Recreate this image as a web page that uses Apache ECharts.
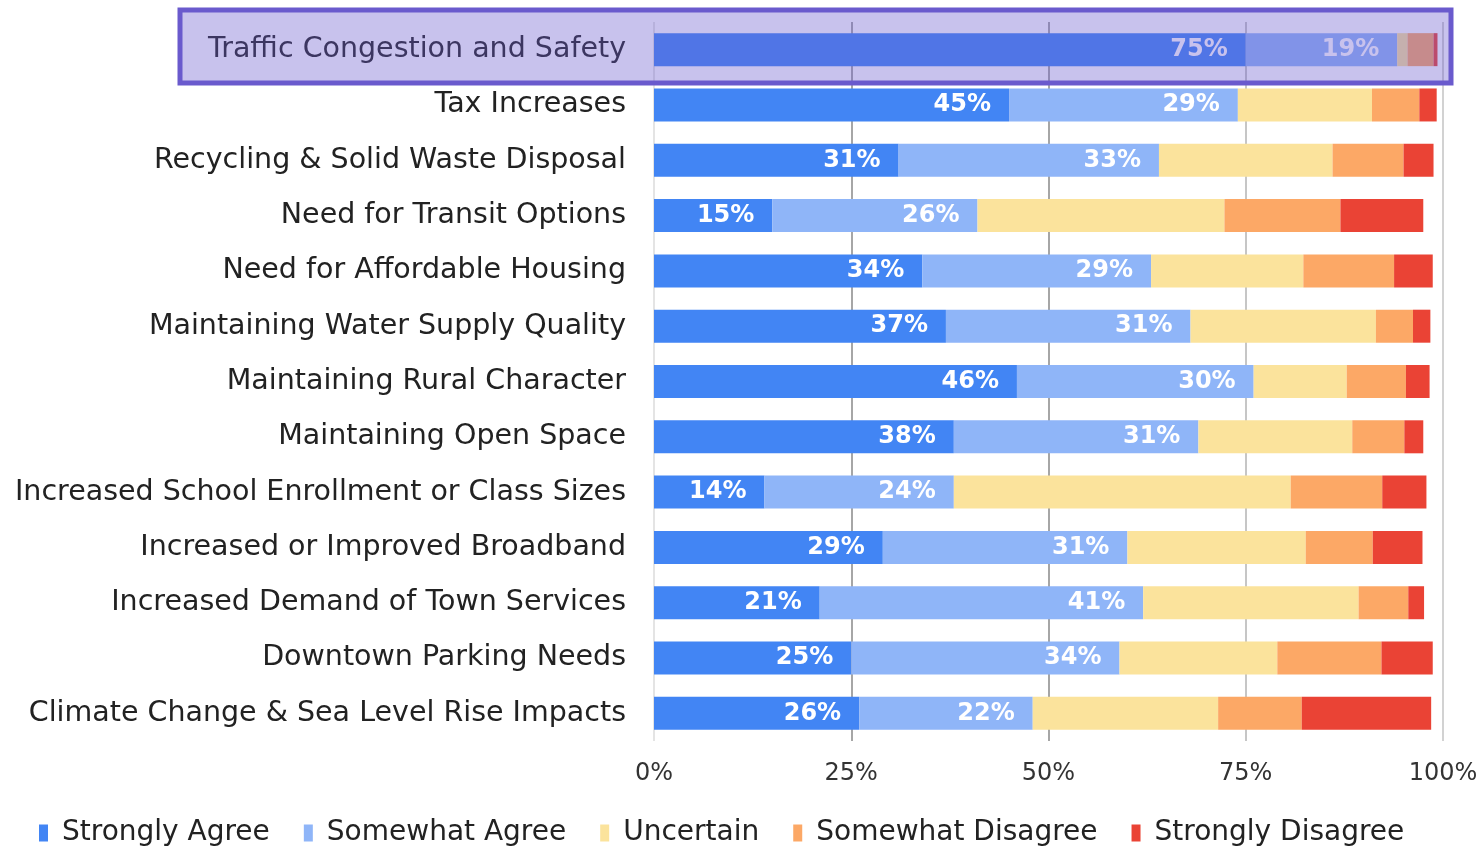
<!DOCTYPE html>
<html>
<head>
    <meta charset="utf-8">
    <title>Community Concerns</title>
    <script src="https://cdn.jsdelivr.net/npm/echarts@6/dist/echarts.min.js"></script>
    <style>
      html, body { margin: 0; padding: 0; background: #fff; }
    </style>
</head>
<body>
    <div id="main" style="width: 1481px;height:847px;"></div>
    <script type="text/javascript">
    // Data (percent of respondents)
    var topics = [
      'Traffic Congestion and Safety',
      'Tax Increases',
      'Recycling & Solid Waste Disposal',
      'Need for Transit Options',
      'Need for Affordable Housing',
      'Maintaining Water Supply Quality',
      'Maintaining Rural Character',
      'Maintaining Open Space',
      'Increased School Enrollment or Class Sizes',
      'Increased or Improved Broadband',
      'Increased Demand of Town Services',
      'Downtown Parking Needs',
      'Climate Change & Sea Level Rise Impacts'
    ];
    var stronglyAgree    = [75, 45, 31, 15, 34, 37, 46, 38, 14, 29, 21, 25, 26];
    var somewhatAgree    = [19.2, 29, 33, 26, 29, 31, 30, 31, 24, 31, 41, 34, 22];
    var uncertain        = [1.3, 17, 22, 31.3, 19.3, 23.5, 11.8, 19.5, 42.7, 22.6, 27.3, 20, 23.5];
    var somewhatDisagree = [3.3, 6, 9, 14.7, 11.5, 4.7, 7.5, 6.6, 11.6, 8.5, 6.3, 13.2, 10.6];
    var stronglyDisagree = [0.5, 2.2, 3.8, 10.5, 4.9, 2.2, 3, 2.4, 5.6, 6.3, 2, 6.5, 16.4];
    var tickLabels = ['0%', '25%', '50%', '75%', '100%'];

    var myChart = echarts.init(document.getElementById('main'));
    var font = '"DejaVu Sans", Arial, sans-serif';

    var valueLabel = {
      show: true,
      position: 'insideRight',
      distance: 18,
      color: '#fff',
      fontSize: 24,
      fontWeight: 'bold',
      fontFamily: font,
      formatter: function (p) { return Math.round(p.value) + '%'; }
    };

    function makeSeries(name, data, color, withLabel) {
      return {
        name: name,
        type: 'bar',
        stack: 'total',
        barWidth: 33,
        data: data,
        itemStyle: { color: color },
        label: withLabel ? valueLabel : { show: false },
        emphasis: { disabled: true }
      };
    }

    var option = {
      backgroundColor: '#fff',
      animation: false,
      textStyle: { fontFamily: font },
      grid: {
        left: 654,
        right: 38,
        top: 22,
        bottom: 106,
        containLabel: false
      },
      legend: {
        top: 814,
        left: 34,
        icon: 'rect',
        itemWidth: 9,
        itemHeight: 17,
        itemGap: 34,
        textStyle: { color: '#222', fontSize: 28, fontFamily: font, padding: [0, 0, 0, 9] },
        data: ['Strongly Agree', 'Somewhat Agree', 'Uncertain', 'Somewhat Disagree', 'Strongly Disagree']
      },
      xAxis: {
        type: 'value',
        min: 0,
        max: 100,
        interval: 25,
        axisLine: { show: false },
        axisTick: { show: false },
        splitLine: {
          show: true,
          lineStyle: {
            color: ['#e4e4e4', '#a6a6a6', '#a6a6a6', '#c6c6c6', '#d2d2d2'],
            width: 2
          }
        },
        axisLabel: {
          color: '#333',
          fontSize: 24,
          margin: 21,
          fontFamily: font,
          formatter: function (v) { return tickLabels[v / 25]; }
        }
      },
      yAxis: {
        type: 'category',
        inverse: true,
        data: topics,
        axisLine: { show: false },
        axisTick: { show: false },
        axisLabel: {
          color: '#222',
          fontSize: 28.5,
          margin: 28,
          fontFamily: font
        }
      },
      series: [
        makeSeries('Strongly Agree', stronglyAgree, '#4285f4', true),
        makeSeries('Somewhat Agree', somewhatAgree, '#8fb5f8', true),
        makeSeries('Uncertain', uncertain, '#fbe39c', false),
        makeSeries('Somewhat Disagree', somewhatDisagree, '#fca866', false),
        makeSeries('Strongly Disagree', stronglyDisagree, '#ea4335', false)
      ],
      // highlight box over the first row
      graphic: [{
        type: 'rect',
        z: 100,
        shape: { x: 180, y: 10, width: 1271, height: 73 },
        style: {
          fill: 'rgba(106,90,205,0.37)',
          stroke: '#6a5acd',
          lineWidth: 5
        }
      }]
    };

    myChart.setOption(option);
    </script>
</body>
</html>
